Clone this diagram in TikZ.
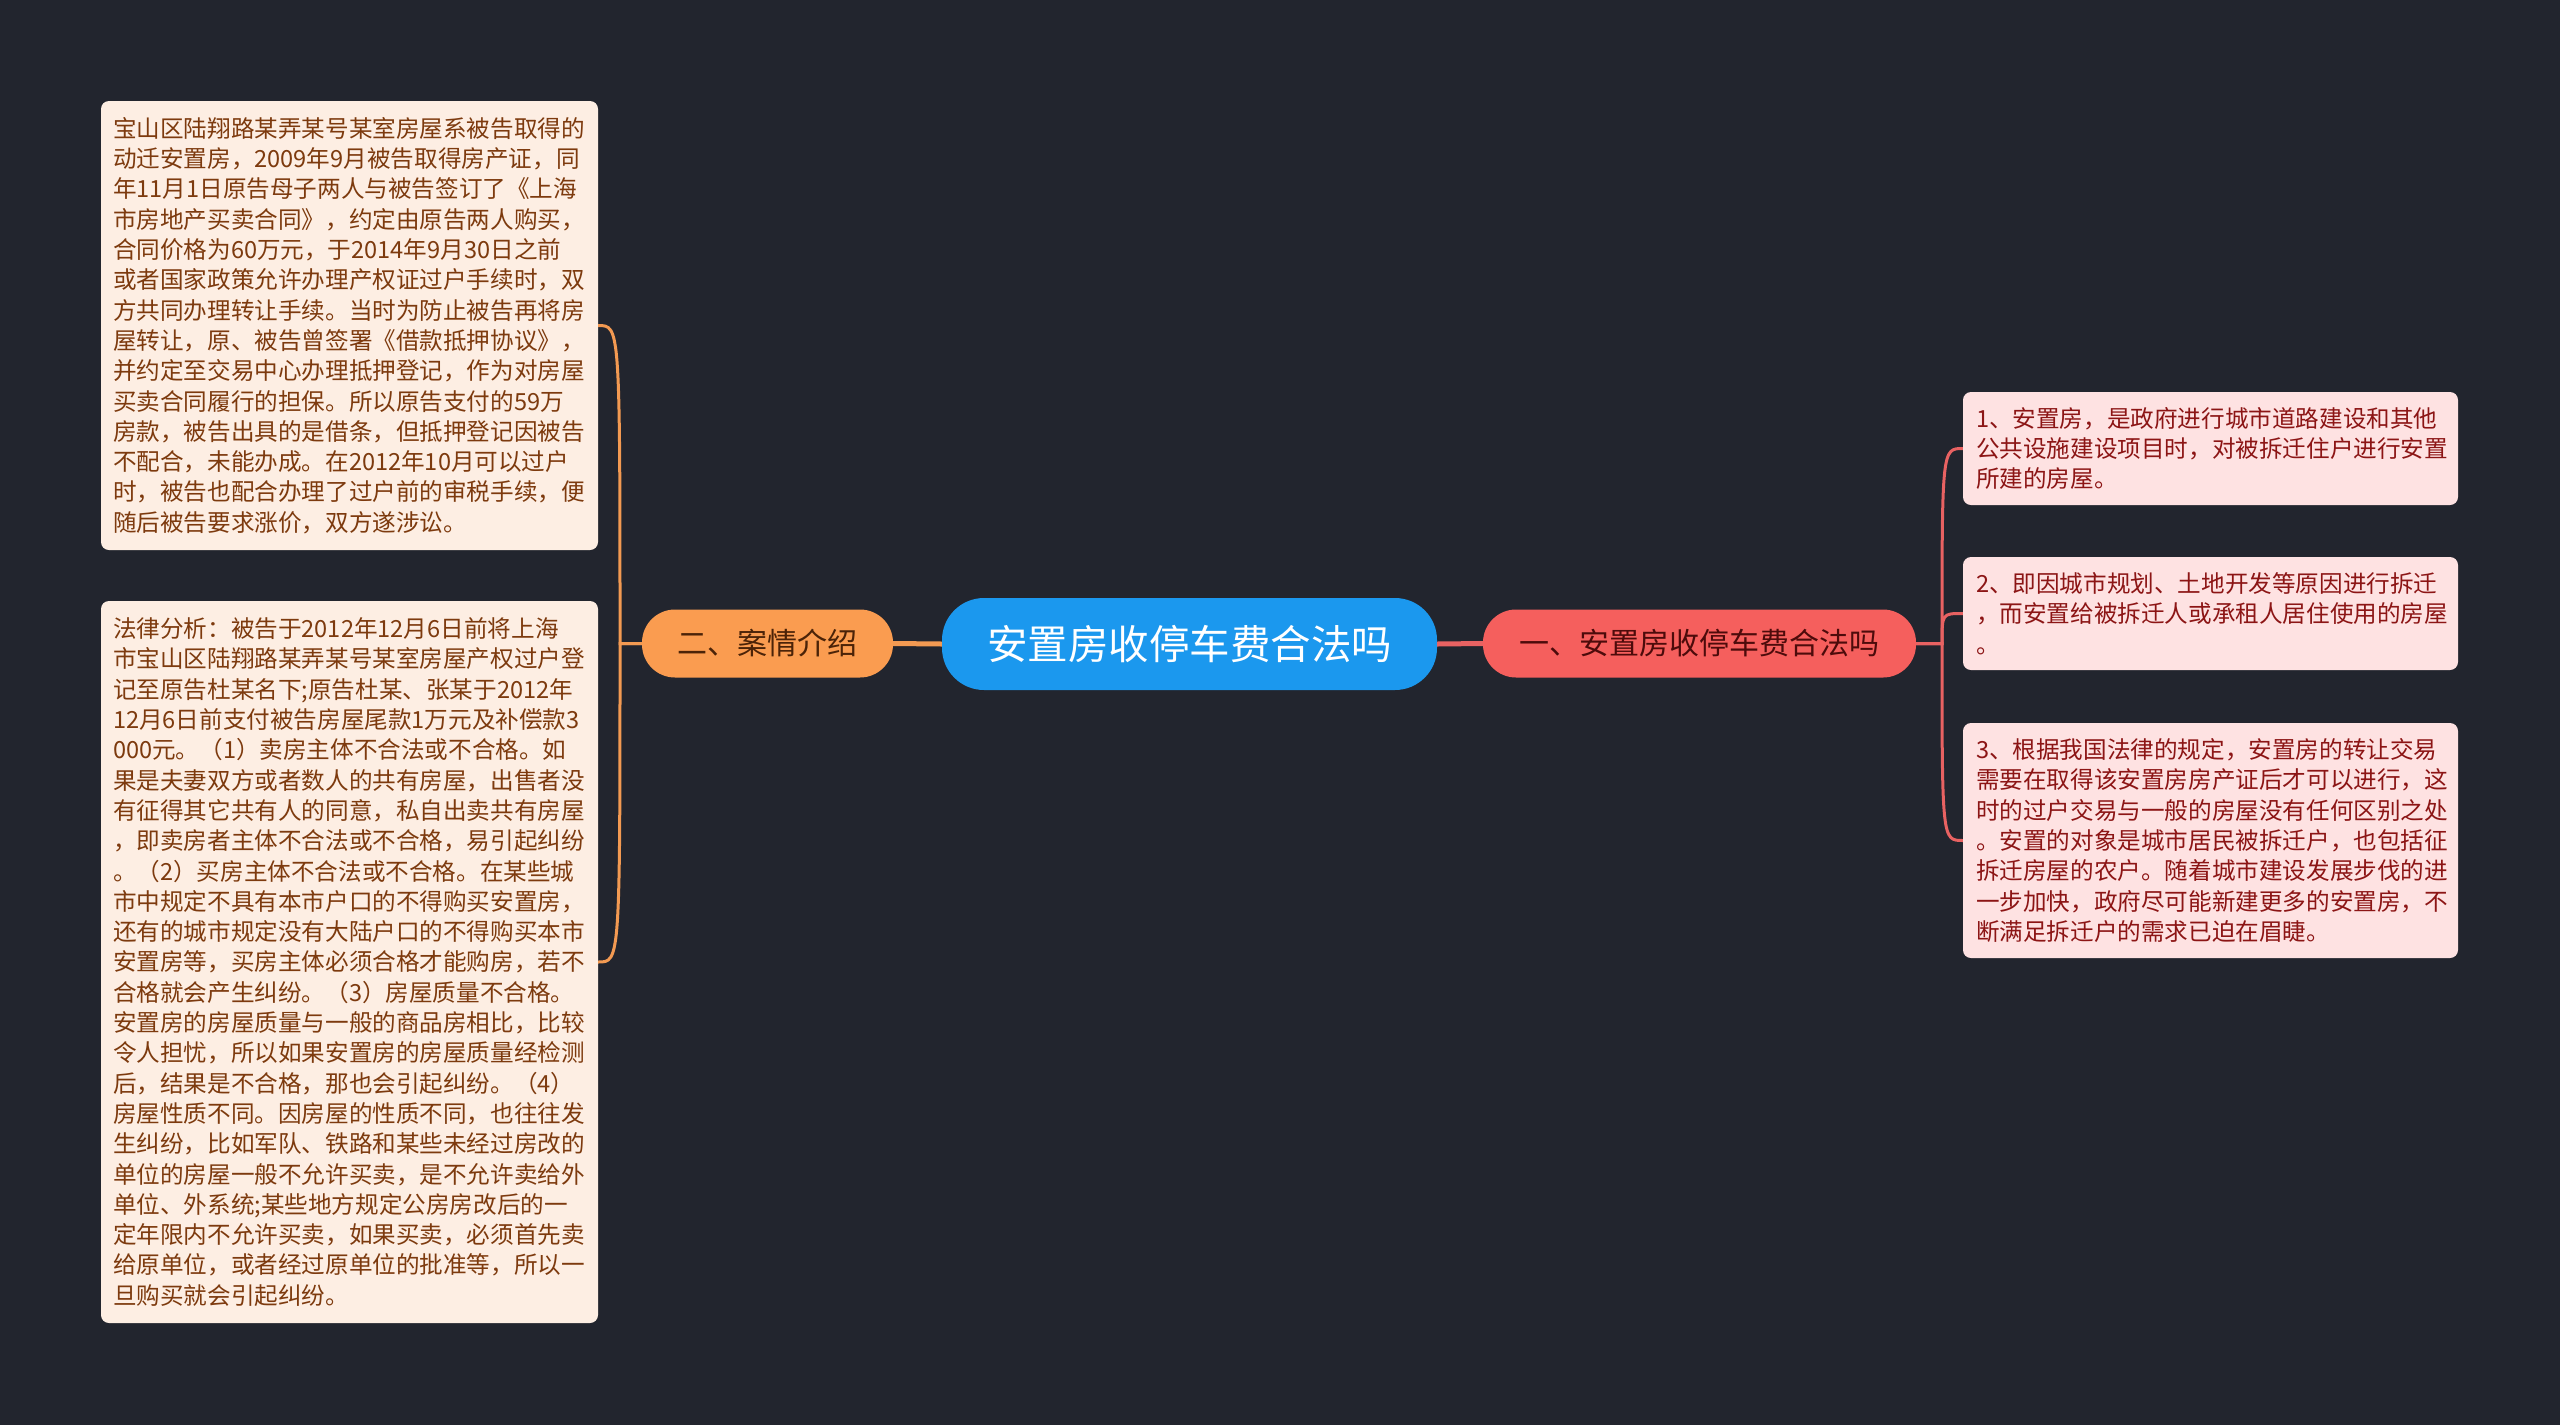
\documentclass[tikz,border=0pt]{standalone}
\usepackage{fontspec}
\setmainfont{Noto Sans CJK SC}
\definecolor{fondo}{HTML}{22252E}
\definecolor{azul}{HTML}{1B98EE}
\definecolor{naranja}{HTML}{FA9C50}
\definecolor{rojo}{HTML}{F55F5D}
\definecolor{hojaN}{HTML}{FDEEE3}
\definecolor{hojaR}{HTML}{FEE2E2}
\definecolor{textoN}{HTML}{7D3A0E}
\definecolor{textoR}{HTML}{8C1515}
\definecolor{lineaN}{HTML}{F39A52}
\definecolor{lineaR}{HTML}{E86262}
\begin{document}
\begin{tikzpicture}[
  x=1pt, y=-1pt,
  raiz/.style={rectangle, rounded corners=42pt, fill=azul, text=white, minimum width=495pt, minimum height=92pt, inner sep=0pt, font=\fontsize{40.5}{48}\selectfont},
  rama/.style={rectangle, rounded corners=33pt, minimum height=68pt, inner sep=0pt, font=\fontsize{30}{36}\selectfont},
  hoja/.style={rectangle, rounded corners=8pt, align=left, inner ysep=0pt, font=\fontsize{23.6}{30.3}\selectfont},
  hojaL/.style={hoja, fill=hojaN, text=textoN, text width=473pt, inner xsep=12pt},
  hojaD/.style={hoja, fill=hojaR, text=textoR, text width=469pt, inner xsep=13pt},
  troncoN/.style={line width=5pt, draw=lineaN},
  troncoR/.style={line width=5pt, draw=lineaR},
  edgeN/.style={line width=3pt, draw=lineaN},
  edgeR/.style={line width=3pt, draw=lineaR}
]
  \useasboundingbox (0,0) rectangle (2560,1425);
  \fill[fondo] (0,0) rectangle (2560,1425);

  % Tema central y ramas principales
  \node[raiz] (c) at (1189.5,644) {安置房收停车费合法吗};
  \node[rama, fill=naranja, text=textoN!60!black, minimum width=251pt] (b2) at (767.5,643.5) {二、案情介绍};
  \node[rama, fill=rojo, text=textoR!55!black, minimum width=433pt] (b1) at (1699.5,643.5) {一、安置房收停车费合法吗};

  % Hojas de la izquierda
  \node[hojaL, minimum height=449pt] (l1) at (349.5,325.5) {宝山区陆翔路某弄某号某室房屋系被告取得的\\动迁安置房，2009年9月被告取得房产证，同\\年11月1日原告母子两人与被告签订了《上海\\市房地产买卖合同》，约定由原告两人购买，\\合同价格为60万元，于2014年9月30日之前\\或者国家政策允许办理产权证过户手续时，双\\方共同办理转让手续。当时为防止被告再将房\\屋转让，原、被告曾签署《借款抵押协议》，\\并约定至交易中心办理抵押登记，作为对房屋\\买卖合同履行的担保。所以原告支付的59万\\房款，被告出具的是借条，但抵押登记因被告\\不配合，未能办成。在2012年10月可以过户\\时，被告也配合办理了过户前的审税手续，便\\随后被告要求涨价，双方遂涉讼。};
  \node[hojaL, minimum height=722pt] (l2) at (349.5,962) {法律分析：被告于2012年12月6日前将上海\\市宝山区陆翔路某弄某号某室房屋产权过户登\\记至原告杜某名下;原告杜某、张某于2012年\\12月6日前支付被告房屋尾款1万元及补偿款3\\000元。（1）卖房主体不合法或不合格。如\\果是夫妻双方或者数人的共有房屋，出售者没\\有征得其它共有人的同意，私自出卖共有房屋\\，即卖房者主体不合法或不合格，易引起纠纷\\。（2）买房主体不合法或不合格。在某些城\\市中规定不具有本市户口的不得购买安置房，\\还有的城市规定没有大陆户口的不得购买本市\\安置房等，买房主体必须合格才能购房，若不\\合格就会产生纠纷。（3）房屋质量不合格。\\安置房的房屋质量与一般的商品房相比，比较\\令人担忧，所以如果安置房的房屋质量经检测\\后，结果是不合格，那也会引起纠纷。（4）\\房屋性质不同。因房屋的性质不同，也往往发\\生纠纷，比如军队、铁路和某些未经过房改的\\单位的房屋一般不允许买卖，是不允许卖给外\\单位、外系统;某些地方规定公房房改后的一\\定年限内不允许买卖，如果买卖，必须首先卖\\给原单位，或者经过原单位的批准等，所以一\\旦购买就会引起纠纷。};

  % Hojas de la derecha
  \node[hojaD, minimum height=113pt] (r1) at (2210.5,448.5) {1、安置房，是政府进行城市道路建设和其他\\公共设施建设项目时，对被拆迁住户进行安置\\所建的房屋。};
  \node[hojaD, minimum height=113pt] (r2) at (2210.5,613.5) {2、即因城市规划、土地开发等原因进行拆迁\\，而安置给被拆迁人或承租人居住使用的房屋\\。};
  \node[hojaD, minimum height=235pt] (r3) at (2210.5,840.5) {3、根据我国法律的规定，安置房的转让交易\\需要在取得该安置房房产证后才可以进行，这\\时的过户交易与一般的房屋没有任何区别之处\\。安置的对象是城市居民被拆迁户，也包括征\\拆迁房屋的农户。随着城市建设发展步伐的进\\一步加快，政府尽可能新建更多的安置房，不\\断满足拆迁户的需求已迫在眉睫。};

  % Puntos de unión
  \coordinate (lj) at (620,643.5);
  \coordinate (rj) at (1942,643.5);

  % Conexiones del tema central
  \draw[troncoN] (c.west) -- (b2.east);
  \draw[troncoR] (c.east) -- (b1.west);

  % Conexiones a las hojas
  \draw[edgeN] (b2.west) -- (lj) .. controls (lj |- l1.east) .. (l1.east);
  \draw[edgeN] (b2.west) -- (lj) .. controls (lj |- l2.east) .. (l2.east);

  \draw[edgeR] (b1.east) -- (rj) .. controls (rj |- r1.west) .. (r1.west);
  \draw[edgeR] (b1.east) -- (rj) .. controls (rj |- r2.west) .. (r2.west);
  \draw[edgeR] (b1.east) -- (rj) .. controls (rj |- r3.west) .. (r3.west);

\end{tikzpicture}
\end{document}
